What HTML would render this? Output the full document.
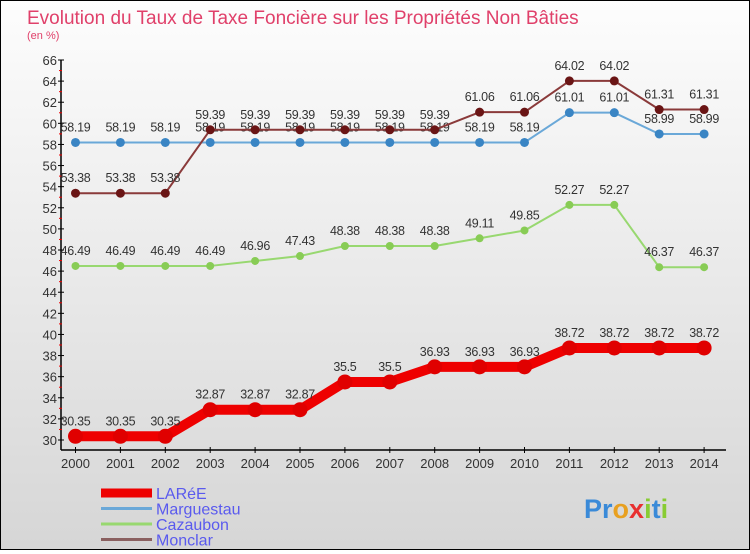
<!DOCTYPE html>
<html><head><meta charset="utf-8"><style>
body{margin:0;width:750px;height:550px;overflow:hidden;font-family:"Liberation Sans",sans-serif}
#wrap{position:relative;width:748px;height:548px;border:1px solid #000;background:linear-gradient(#fdfdfd,#d6d6d6)}
text{font-family:"Liberation Sans",sans-serif}
</style></head><body>
<div id="wrap">
<svg id="chart" width="748" height="548"></svg>
</div>
<script>
const years=[2000,2001,2002,2003,2004,2005,2006,2007,2008,2009,2010,2011,2012,2013,2014];
const yTicks=[30,32,34,36,38,40,42,44,46,48,50,52,54,56,58,60,62,64,66];
const lareE=[30.35,30.35,30.35,32.87,32.87,32.87,35.5,35.5,36.93,36.93,36.93,38.72,38.72,38.72,38.72];
const marguestau=[58.19,58.19,58.19,58.19,58.19,58.19,58.19,58.19,58.19,58.19,58.19,61.01,61.01,58.99,58.99];
const cazaubon=[46.49,46.49,46.49,46.49,46.96,47.43,48.38,48.38,48.38,49.11,49.85,52.27,52.27,46.37,46.37];
const monclar=[53.38,53.38,53.38,59.39,59.39,59.39,59.39,59.39,59.39,61.06,61.06,64.02,64.02,61.31,61.31];
const svg=document.getElementById('chart');const NS='http://www.w3.org/2000/svg';
function X(i){return 74.5+i*44.9;}
function Y(v){return 439-(v-30)*380/36;}
function mk(t,a,p){const e=document.createElementNS(NS,t);for(const k in a)e.setAttribute(k,a[k]);(p||svg).appendChild(e);return e;}
let t=mk('text',{x:26,y:23,'font-size':19,fill:'#e0406a'});t.textContent='Evolution du Taux de Taxe Foncière sur les Propriétés Non Bâties';

t=mk('text',{x:26,y:38,'font-size':11,fill:'#e0406a'});t.textContent='(en %)';

let a=mk('line',{x1:60,y1:Y(66),x2:60,y2:Y(30)+10,stroke:'#000','stroke-width':1.5});

yTicks.forEach(v=>{mk('line',{x1:57,x2:63,y1:Y(v),y2:Y(v),stroke:'#000'});
if(v<66)mk('line',{x1:58,x2:61,y1:Y(v+1),y2:Y(v+1),stroke:'#e00'});
const l=mk('text',{x:56,y:Y(v)+5,'font-size':13,fill:'#333','text-anchor':'end'});l.textContent=v;
});
a=mk('line',{x1:60,y1:449,x2:725,y2:449,stroke:'#000','stroke-width':1.5});

years.forEach((y,i)=>{mk('line',{x1:X(i),x2:X(i),y1:446,y2:452,stroke:'#000'});
const l=mk('text',{x:X(i),y:467,'font-size':13,fill:'#333','text-anchor':'middle'});l.textContent=y;
});
function series(d,color,w,r,name,dark){
 const g=mk('g',{});
 mk('polyline',{points:d.map((v,i)=>X(i)+','+Y(v)).join(' '),fill:'none',stroke:color,'stroke-width':w,'stroke-linejoin':'round'},g);
 d.forEach((v,i)=>{const c=mk('circle',{cx:X(i),cy:Y(v),r:r,fill:dark||color},g);
 
 const l=mk('text',{x:X(i),y:Y(v)-11,'font-size':12.5,fill:'#333','text-anchor':'middle','letter-spacing':'-0.3'},g);l.textContent=v;});
}
series(marguestau,'#6aa8d8',2,4.5,'marguestau','#3a85c4');
series(cazaubon,'#98d870',2,4,'cazaubon','#88cc55');
series(monclar,'#8a3a3a',2,4.5,'monclar','#6a1515');
series(lareE,'#ee0000',10,7.5,'lare','#e00000');
const leg=[['LARéE','#ee0000',9],['Marguestau','#6aa8d8',3],['Cazaubon','#98d870',3],['Monclar','#8a6060',3]];
leg.forEach((e,i)=>{const g=mk('g',{});
 const y=492+i*15.5;mk('line',{x1:100,x2:151,y1:y,y2:y,stroke:e[1],'stroke-width':e[2]},g);
 const l=mk('text',{x:155,y:y+6,'font-size':16,fill:'#5a5aee'},g);l.textContent=e[0];});
const lg=mk('text',{x:583,y:517,'font-size':27,'font-weight':'bold',fill:'#3a8ad8'});

['P','r','o','x','i','t','i'].forEach((c,i)=>{const s=mk('tspan',{fill:['#3a8ad8','#3a8ad8','#e8a020','#e83030','#88cc33','#3a8ad8','#88cc33'][i]},lg);s.textContent=c;});
</script>
</body></html>
